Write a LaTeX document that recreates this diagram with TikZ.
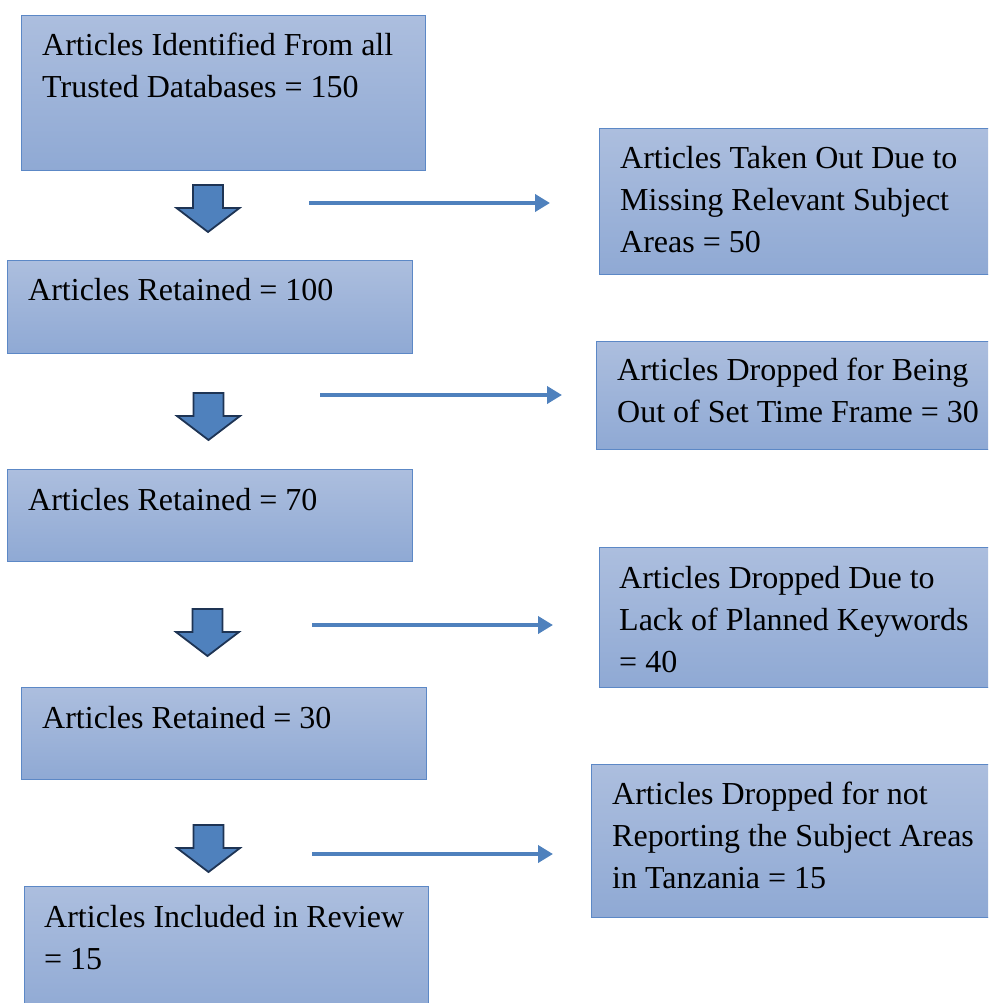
\documentclass[tikz,border=0pt]{standalone}
\usepackage{fontspec}
\setmainfont{Liberation Serif}
\usetikzlibrary{arrows.meta,positioning}

\definecolor{boxtop}{RGB}{172,190,222}
\definecolor{boxbot}{RGB}{143,169,212}
\definecolor{boxline}{RGB}{92,136,198}
\definecolor{blkfill}{RGB}{79,129,189}
\definecolor{blkline}{RGB}{30,52,84}

\tikzset{
  box/.style={draw=boxline, line width=1.4pt, top color=boxtop, bottom color=boxbot,
    rectangle, inner sep=0pt, anchor=north west},
  boxtext/.style={anchor=north west, inner sep=0pt, align=left,
    font=\fontsize{32}{42}\selectfont},
  thinarr/.style={draw=blkfill, line width=3.8pt, -{Triangle[length=15pt,width=17pt]}},
  downblock/.pic={
    \filldraw[fill=blkfill, draw=blkline, line width=1.8pt, line join=miter]
      (-15,0) -- (15,0) -- (15,23) -- (31.5,23) -- (0,47) -- (-31.5,23) -- (-15,23) -- cycle;
  }
}

\begin{document}
\begin{tikzpicture}[x=1pt, y=-1pt]
	\useasboundingbox (0,0) rectangle (988,1003);
	\clip (0,0) rectangle (988,1003);
	
	% left column
	\node[box, minimum width=404, minimum height=155] (ident) at (21,15) {};
	\node[box, minimum width=405, minimum height=93] (ret1) at (7,260) {};
	\node[box, minimum width=405, minimum height=92] (ret2) at (7,469) {};
	\node[box, minimum width=405, minimum height=92] (ret3) at (21,687) {};
	\node[box, minimum width=404, minimum height=130] (incl) at (24,886) {};
	
	% right column
	\node[box, minimum width=400, minimum height=146] (cut1) at (599,128) {};
	\node[box, minimum width=400, minimum height=108] (cut2) at (596,341) {};
	\node[box, minimum width=400, minimum height=140] (cut3) at (599,547) {};
	\node[box, minimum width=400, minimum height=153] (cut4) at (591,764) {};
	
	\node[boxtext] (identt) at ([shift={(21,18)}]ident.north west) {Articles Identified From all\\Trusted Databases = 150};
	\node[boxtext] (ret1t) at ([shift={(21,18)}]ret1.north west) {Articles Retained = 100};
	\node[boxtext] (ret2t) at ([shift={(21,19)}]ret2.north west) {Articles Retained = 70};
	\node[boxtext] (ret3t) at ([shift={(21,19)}]ret3.north west) {Articles Retained = 30};
	\node[boxtext] (inclt) at ([shift={(20,19)}]incl.north west) {Articles Included in Review\\= 15};
	
	\node[boxtext] (cut1t) at ([shift={(21,18)}]cut1.north west) {Articles Taken Out Due to\\Missing Relevant Subject\\Areas = 50};
	\node[boxtext] (cut2t) at ([shift={(21,17)}]cut2.north west) {Articles Dropped for Being\\Out of Set Time Frame = 30};
	\node[boxtext] (cut3t) at ([shift={(20,19)}]cut3.north west) {Articles Dropped Due to\\Lack of Planned Keywords\\= 40};
	\node[boxtext] (cut4t) at ([shift={(21,18)}]cut4.north west) {Articles Dropped for not\\Reporting the Subject Areas\\in Tanzania = 15};
	
	% block arrows down
	\foreach \n/\x/\y in {1/208/185, 2/208.5/393, 3/207.5/609, 4/208.5/825} {
		\pic (blk\n) at (\x,\y) {downblock};
	}
	
	% side arrows
	\foreach \n/\xa/\xb/\y in {1/309/550/203, 2/320/562/395, 3/312/553/625, 4/312/553/854} {
		\coordinate (out\n a) at (\xa,\y);
		\coordinate (out\n b) at (\xb,\y);
		\draw[thinarr] (out\n a) -- (out\n b);
	}
\end{tikzpicture}
\end{document}
